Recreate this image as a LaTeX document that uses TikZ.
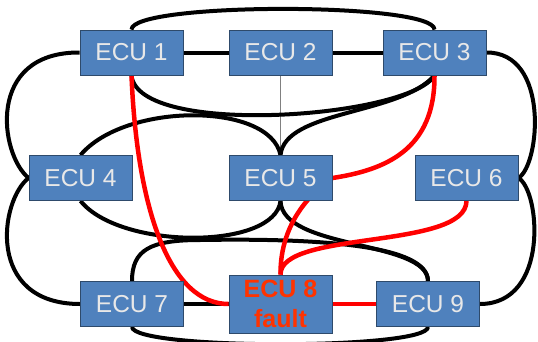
\documentclass[tikz,border=0pt]{standalone}
\usepackage{fontspec}
\setmainfont{Liberation Sans}
\usetikzlibrary{backgrounds}
\definecolor{ecublue}{HTML}{4F81BD}
\definecolor{ecuedge}{HTML}{2E4A6B}
\definecolor{ecutext}{HTML}{E8E8E8}
\definecolor{faulttext}{HTML}{FF3300}
\definecolor{busred}{HTML}{FF0000}
\begin{document}
\begin{tikzpicture}[x=1pt,y=-1pt,
  ecu/.style={draw=ecuedge, line width=0.8pt, fill=ecublue, text=ecutext,
    minimum width=103pt, minimum height=45pt, inner sep=0pt,
    font=\fontsize{24.5}{29}\selectfont},
  faulty/.style={ecu, minimum height=58pt, text=faulttext, align=center,
    font=\bfseries\fontsize{25}{29.7}\selectfont},
  wire/.style={line width=4pt, black},
  redwire/.style={line width=4.5pt, busred},
  thinwire/.style={line width=0.8pt, gray}]
\useasboundingbox (0,0) rectangle (538,341);

% ECU boxes
\node[ecu] (e1) at (131.5,52.5) {ECU 1};
\node[ecu] (e2) at (280.5,52.5) {ECU 2};
\node[ecu] (e3) at (434.5,52.5) {ECU 3};
\node[ecu] (e4) at (80.5,178) {ECU 4};
\node[ecu] (e5) at (280.5,178) {ECU 5};
\node[ecu] (e6) at (466.5,178) {ECU 6};
\node[ecu] (e7) at (132,304) {ECU 7};
\node[faulty] (e8) at (280.5,304) {ECU 8\\fault};
\node[ecu] (e9) at (428,304) {ECU 9};

\begin{scope}[on background layer]
  \fill[white] (0,0) rectangle (538,341);
  \clip (0,0) rectangle (538,341);
  % straight links
  \draw[wire] (e1.east) -- (e2.west);
  \draw[wire] (e2.east) -- (e3.west);
  \draw[wire] (e7.east) -- (e8.west);
  \draw[thinwire] (e2.south) -- (e5.north);
  % upper links
  \draw[wire] (e1.north) .. controls (131.5,2) and (434.5,2) .. (e3.north);
  \draw[wire] (e1.south) .. controls (138,138) and (410,118) .. (e3.south);
  \draw[wire] (e4.north) .. controls (125,102) and (270,102) .. (e5.north);
  \draw[wire] (e5.north) .. controls (285,110) and (400,115) .. (e3.south);
  % lower links
  \draw[wire] (e4.south) .. controls (120,250) and (275,250) .. (e5.south);
  \draw[wire] (e5.south) .. controls (282,250) and (428,240) .. (e9.north);
  \draw[wire] (e7.north) .. controls (132,250) and (150,240) .. (200,240)
                         .. controls (320,238) and (428,245) .. (e9.north);
  \draw[wire] (e7.south) .. controls (133,350) and (428,350) .. (e9.south);
  % outer links
  \draw[wire] (e1.west) .. controls (-15,52) and (0,155) .. (e4.west);
  \draw[wire] (e4.west) .. controls (0,200) and (-15,304) .. (e7.west);
  \draw[wire] (e3.east) .. controls (550,52) and (540,165) .. (e6.east);
  \draw[wire] (e6.east) .. controls (540,190) and (550,304) .. (e9.east);
  % links of the faulty ECU
  \draw[redwire] (e1.south) .. controls (137,210) and (170,304) .. (e8.west);
  \draw[redwire] (e8.east) -- (e9.west);
  \draw[redwire] (e3.south) .. controls (435,150) and (385,170) .. (e5.east)
                            .. controls (315,190) and (280,220) .. (e8.north);
  \draw[redwire] (e8.north) .. controls (280,230) and (466,250) .. (e6.south);
\end{scope}
\end{tikzpicture}
\end{document}
